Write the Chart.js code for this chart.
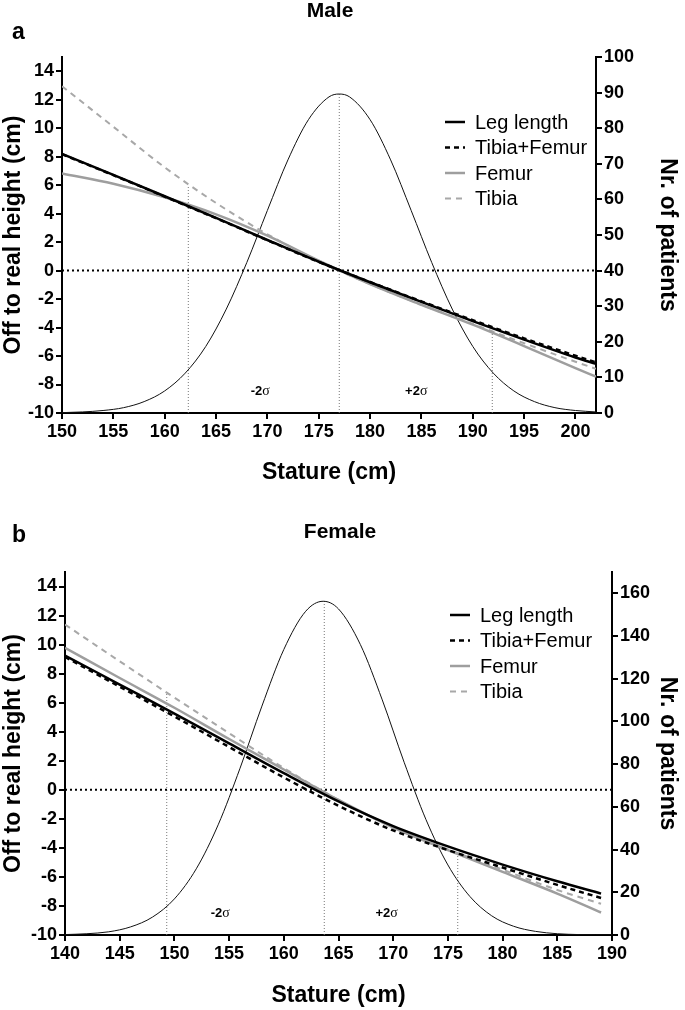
<!DOCTYPE html>
<html>
<head>
<meta charset="utf-8">
<script src="https://cdn.jsdelivr.net/npm/chart.js@4.4.1/dist/chart.umd.min.js"></script>
<style>
  html, body { margin: 0; padding: 0; background: #fff; }
  canvas { display: block; }
</style>
</head>
<body>
<canvas id="chartMale" width="685" height="500"></canvas>
<canvas id="chartFemale" width="685" height="510"></canvas>
<script>
// ---------- data ----------
const seriesNames = ["Leg length", "Tibia+Femur", "Femur", "Tibia"];

// panel a: male
const maleStature = [150, 155, 160, 165, 170, 175, 180, 185, 190, 195, 200, 202];
const maleLegLength = [8.2, 6.72, 5.22, 3.7, 2.15, 0.62, -0.82, -2.2, -3.55, -4.85, -6.1, -6.55];
const maleTibiaFemur = [8.17, 6.7, 5.2, 3.68, 2.13, 0.61, -0.8, -2.16, -3.48, -4.76, -5.98, -6.45];
const maleFemur = [6.82, 6.1, 5.15, 3.95, 2.45, 0.7, -0.95, -2.4, -3.8, -5.3, -6.85, -7.45];
const maleTibia = [12.95, 10.1, 7.25, 4.75, 2.55, 0.65, -0.95, -2.4, -3.75, -5.1, -6.4, -6.9];
const maleCountX = [150, 152, 154, 156, 158, 160, 162, 164, 166, 168, 170, 172, 174, 176, 177,
  178, 180, 182, 184, 186, 188, 190, 192, 194, 196, 198, 200, 202];
const maleCount = [0.1, 0.3, 0.7, 1.5, 3.2, 6.2, 11.2, 18.7, 29.2, 42.3, 56.9, 71.1, 82.4, 88.8, 89.6,
  88.8, 82.4, 71.1, 56.9, 42.3, 29.2, 18.7, 11.2, 6.2, 3.2, 1.5, 0.7, 0.3];
const maleSigmaX = [162.3, 177, 191.9];
const maleSigmaTop = [5.9, 12.4, -4.2];

// panel b: female
const femaleStature = [140, 145, 150, 155, 160, 165, 170, 175, 180, 185, 189];
const femaleLegLength = [9.25, 7.25, 5.25, 3.2, 1.15, -0.8, -2.5, -3.9, -5.15, -6.3, -7.15];
const femaleTibiaFemur = [9.15, 7.1, 5.05, 2.95, 0.85, -1.1, -2.8, -4.15, -5.35, -6.55, -7.45];
const femaleFemur = [9.77, 7.7, 5.65, 3.5, 1.4, -0.7, -2.6, -4.15, -5.65, -7.15, -8.45];
const femaleTibia = [11.38, 8.85, 6.35, 3.9, 1.5, -0.7, -2.6, -4.1, -5.5, -6.9, -7.85];
const femaleCountX = [140, 142, 144, 146, 148, 150, 152, 154, 156, 158, 160, 162, 163.6,
  165, 167, 169, 171, 173, 175, 177, 179, 181, 183, 185, 187, 190];
const femaleCount = [0.2, 0.6, 1.5, 3.8, 8.4, 16.9, 31, 51.6, 78.1, 107.2, 133.7, 151.6, 156.3,
  152.7, 136, 110.1, 80.9, 54, 32.8, 18.1, 9, 4.1, 1.7, 0.6, 0.2, 0.05];
const femaleSigmaX = [149.3, 163.7, 175.9];
const femaleSigmaTop = [6.6, 13.0, -4.45];

// ---------- helpers ----------
Chart.defaults.font.family = "'Liberation Sans', Arial, sans-serif";
Chart.defaults.color = "#000";

function pts(xs, ys) {
  return xs.map((x, i) => ({ x: x, y: ys[i] }));
}

function curve(label, data, color, width, dash) {
  return {
    label: label, data: data, yAxisID: "y",
    borderColor: color, borderWidth: width, borderDash: dash,
    pointRadius: 0, fill: false, cubicInterpolationMode: "monotone"
  };
}

function guide(data, color, width, dash, axis) {
  return {
    label: "", data: data, yAxisID: axis || "y",
    borderColor: color, borderWidth: width, borderDash: dash,
    pointRadius: 0, fill: false, tension: 0
  };
}

// titles, panel letter, sigma labels and legend
const panelText = {
  id: "panelText",
  afterDraw(chart, args, opts) {
    const ctx = chart.ctx;
    const xs = chart.scales.x, ys = chart.scales.y;
    ctx.save();
    ctx.fillStyle = "#000";
    ctx.textBaseline = "middle";

    ctx.font = "bold 21px 'Liberation Sans'";
    ctx.textAlign = "center";
    ctx.fillText(opts.title, opts.titleX, opts.titleY);
    ctx.font = "bold 23px 'Liberation Sans'";
    ctx.textAlign = "left";
    ctx.fillText(opts.letter, opts.letterX, opts.letterY);

    // -2σ / +2σ
    opts.sigma.forEach(s => {
      const px = xs.getPixelForValue(s.x), py = ys.getPixelForValue(s.y);
      ctx.font = "bold 13px 'Liberation Sans'";
      const w1 = ctx.measureText(s.text).width;
      ctx.font = "14px 'Liberation Serif'";
      const w2 = ctx.measureText("σ").width;
      let x0 = px - (w1 + w2) / 2;
      ctx.font = "bold 13px 'Liberation Sans'";
      ctx.fillText(s.text, x0, py);
      ctx.font = "14px 'Liberation Serif'";
      ctx.fillText("σ", x0 + w1, py);
    });

    // legend
    ctx.font = "20px 'Liberation Sans'";
    for (let i = 0; i < 4; i++) {
      const ds = chart.data.datasets[i];
      const y = opts.legendY + i * opts.legendStep;
      ctx.strokeStyle = ds.borderColor;
      ctx.lineWidth = ds.borderWidth;
      ctx.setLineDash(ds.borderDash || []);
      ctx.beginPath();
      ctx.moveTo(opts.legendX, y);
      ctx.lineTo(opts.legendX + 20, y);
      ctx.stroke();
      ctx.fillText(ds.label, opts.legendX + 30, y + 1);
    }
    ctx.restore();
  }
};

function makePanel(canvasId, p) {
  const tickFont = { size: 18, weight: "bold" };
  const titleFont = { size: 23, weight: "bold" };
  const axisGrid = { display: true, drawOnChartArea: false, drawTicks: true, tickLength: 6, color: "#000", lineWidth: 2 };
  const axisBorder = { display: true, color: "#000", width: 2 };

  const datasets = [
    curve(seriesNames[0], pts(p.stature, p.leg), "#000", 2.5, []),
    curve(seriesNames[1], pts(p.stature, p.tibiaFemur), "#000", 2.5, [5, 4]),
    curve(seriesNames[2], pts(p.stature, p.femur), "#9e9e9e", 2.5, []),
    curve(seriesNames[3], pts(p.stature, p.tibia), "#a8a8a8", 2, [6, 5]),
    Object.assign(guide(pts(p.countX, p.count), "#111", 1, [], "y2"), { cubicInterpolationMode: "monotone" }),
    guide([{ x: p.xMin, y: 0 }, { x: p.xMax, y: 0 }], "#000", 2, [2, 3])
  ];
  p.sigmaX.forEach((sx, i) => {
    datasets.push(guide([{ x: sx, y: -10 }, { x: sx, y: p.sigmaTop[i] }], "#777", 1, [1, 2]));
  });
  // draw the curves above the helper lines
  datasets.forEach((d, i) => { d.order = i < 4 ? 0 : 1; });

  return new Chart(document.getElementById(canvasId), {
    type: "line",
    data: { datasets: datasets },
    plugins: [panelText],
    options: {
      responsive: false,
      animation: false,
      layout: { padding: p.padding },
      plugins: {
        legend: { display: false },
        tooltip: { enabled: false },
        panelText: p.text
      },
      scales: {
        x: {
          type: "linear", min: p.xMin, max: p.xMax,
          ticks: { stepSize: 5, includeBounds: false, font: tickFont, padding: 2, maxRotation: 0 },
          grid: axisGrid, border: axisBorder,
          title: { display: true, text: "Stature (cm)", font: titleFont, padding: 0 },
          afterFit: s => { s.height = p.xHeight; }
        },
        y: {
          position: "left", min: -10, max: 15,
          ticks: { stepSize: 2, includeBounds: false, font: tickFont, padding: 2 },
          grid: axisGrid, border: axisBorder,
          title: { display: true, text: "Off to real height (cm)", font: titleFont, padding: 0 },
          afterFit: s => { s.width = p.yWidth; }
        },
        y2: {
          position: "right", min: 0, max: p.countMax,
          ticks: { stepSize: p.countStep, includeBounds: false, font: tickFont, padding: 2 },
          grid: axisGrid, border: axisBorder,
          title: { display: true, text: "Nr. of patients", font: titleFont, padding: 0 },
          afterFit: s => { s.width = p.y2Width; }
        }
      }
    }
  });
}

makePanel("chartMale", {
  stature: maleStature, leg: maleLegLength, tibiaFemur: maleTibiaFemur,
  femur: maleFemur, tibia: maleTibia,
  countX: maleCountX, count: maleCount,
  sigmaX: maleSigmaX, sigmaTop: maleSigmaTop,
  xMin: 150, xMax: 202, countMax: 100, countStep: 10,
  padding: { top: 57, left: 0, right: 4, bottom: 14 },
  xHeight: 73, yWidth: 62, y2Width: 85,
  text: {
    title: "Male", titleX: 330, titleY: 11, letter: "a", letterX: 12, letterY: 33,
    sigma: [{ text: "-2", x: 169.3, y: -8.5 }, { text: "+2", x: 184.5, y: -8.5 }],
    legendX: 445, legendY: 122, legendStep: 25.5
  }
});

makePanel("chartFemale", {
  stature: femaleStature, leg: femaleLegLength, tibiaFemur: femaleTibiaFemur,
  femur: femaleFemur, tibia: femaleTibia,
  countX: femaleCountX, count: femaleCount,
  sigmaX: femaleSigmaX, sigmaTop: femaleSigmaTop,
  xMin: 140, xMax: 190, countMax: 170, countStep: 20,
  padding: { top: 72, left: 0, right: 4, bottom: 1 },
  xHeight: 74, yWidth: 65, y2Width: 69,
  text: {
    title: "Female", titleX: 340, titleY: 32, letter: "b", letterX: 12, letterY: 36,
    sigma: [{ text: "-2", x: 154.2, y: -8.5 }, { text: "+2", x: 169.4, y: -8.5 }],
    legendX: 450, legendY: 115, legendStep: 25.5
  }
});
</script>
</body>
</html>
